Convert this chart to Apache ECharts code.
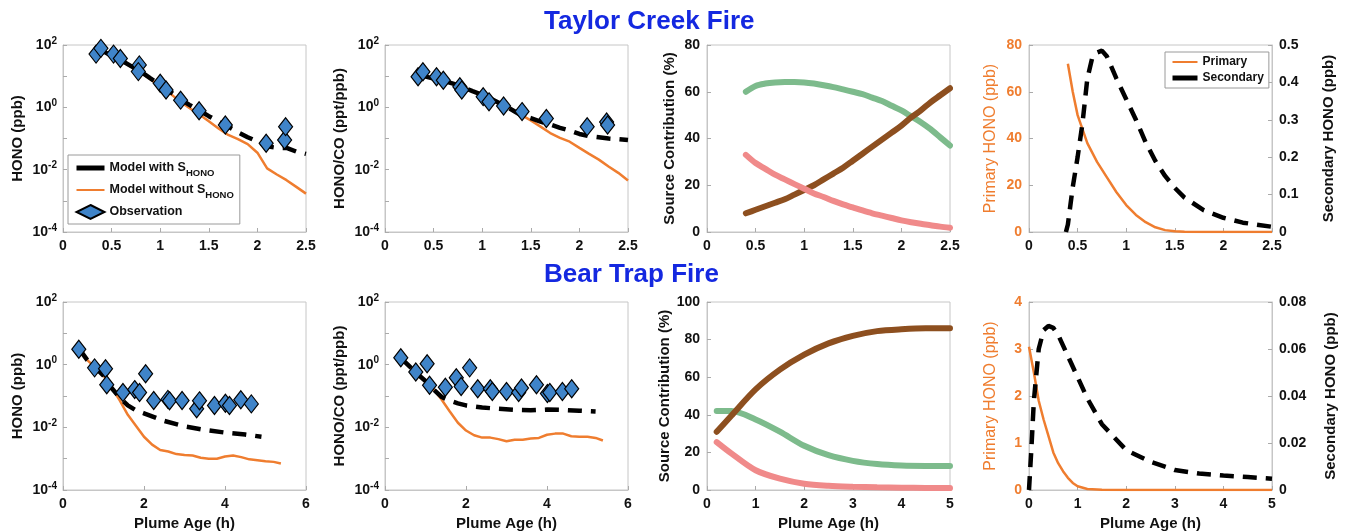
<!DOCTYPE html>
<html>
<head>
<meta charset="utf-8">
<title>HONO in Taylor Creek and Bear Trap fire plumes</title>
<script src="https://cdn.jsdelivr.net/npm/echarts@6/dist/echarts.min.js"></script>
<style>
  html, body { margin: 0; padding: 0; background: #fff; }
  #main { width: 1346px; height: 532px; }
</style>
</head>
<body>
<div id="main"></div>
<script>
// ---- Taylor Creek Fire ----
var tcObsAge = [0.34, 0.39, 0.52, 0.59, 0.785, 0.775, 1.0, 1.06, 1.21, 1.40, 1.67, 2.09, 2.28, 2.29];
var tcObsHono = [51, 78, 51, 37, 23, 14, 5.9, 3.6, 1.7, 0.78, 0.27, 0.07, 0.09, 0.24];
var tcObsRatioAge = [0.34, 0.39, 0.53, 0.6, 0.77, 0.79, 1.01, 1.07, 1.22, 1.41, 1.66, 2.08, 2.28, 2.29];
var tcObsRatio = [9.6, 13.8, 9.6, 7.4, 4.6, 3.6, 2.2, 1.5, 1.1, 0.73, 0.44, 0.24, 0.34, 0.27];

var tcAge = [0.4, 0.5, 0.6, 0.7, 0.8, 0.9, 1.0, 1.1, 1.2, 1.3, 1.4, 1.5, 1.6, 1.7, 1.8, 1.9, 2.0, 2.1, 2.2, 2.3, 2.4, 2.5];
var tcHonoWith = [66, 45, 32, 21, 14, 8.5, 5.3, 3.2, 1.9, 1.2, 0.8, 0.52, 0.35, 0.24, 0.16, 0.11, 0.08, 0.056, 0.05, 0.05, 0.038, 0.032];
var tcHonoWithout = [66, 44.7, 31.6, 20, 13.2, 7.9, 4.8, 2.8, 1.58, 0.95, 0.6, 0.355, 0.21, 0.13, 0.095, 0.066, 0.035, 0.011, 0.007, 0.0046, 0.0028, 0.0017];
var tcRatioWith = [10, 8.3, 7.1, 5.75, 4.5, 3.3, 2.5, 1.8, 1.26, 0.85, 0.56, 0.45, 0.35, 0.28, 0.22, 0.18, 0.14, 0.12, 0.11, 0.1, 0.095, 0.089];
var tcRatioWithout = [10, 8.3, 7.1, 5.75, 4.5, 3.3, 2.5, 1.8, 1.26, 0.89, 0.575, 0.38, 0.24, 0.15, 0.105, 0.079, 0.05, 0.032, 0.021, 0.0126, 0.0079, 0.0045];

var tcSrcGreen = [60, 62.5, 63.5, 64, 64.2, 64.2, 64, 63.5, 62.8, 62, 61, 60, 59, 57.5, 56, 54, 52, 49.5, 47, 44, 40.5, 37];
var tcSrcBrown = [8, 9.5, 11, 12.5, 14, 16, 18, 20, 22.5, 25, 27.5, 30.5, 33.5, 36.5, 39.5, 42.5, 45.5, 49, 52, 55.5, 58.5, 61.5];
var tcSrcRed = [33, 29.5, 27, 24.5, 22.5, 20.5, 18.5, 16.5, 15, 13.3, 11.8, 10.5, 9.2, 8, 7, 6, 5, 4.2, 3.5, 2.9, 2.3, 1.8];

var tcPrimAge = [0.4, 0.45, 0.5, 0.55, 0.6, 0.7, 0.8, 0.9, 1.0, 1.1, 1.2, 1.3, 1.4, 1.5, 1.6, 1.8, 2.0, 2.5];
var tcPrimary = [72, 60, 50, 44, 38, 30, 23.5, 17, 11.5, 7.3, 4.2, 2.0, 0.8, 0.3, 0.1, 0.03, 0, 0];
var tcSecAge = [0.38, 0.4, 0.45, 0.5, 0.55, 0.6, 0.65, 0.7, 0.75, 0.8, 0.9, 1.0, 1.1, 1.2, 1.3, 1.4, 1.5, 1.6, 1.8, 2.0, 2.2, 2.5];
var tcSecondary = [0, 0.02, 0.12, 0.2, 0.29, 0.41, 0.465, 0.48, 0.485, 0.47, 0.41, 0.355, 0.3, 0.24, 0.19, 0.15, 0.118, 0.092, 0.058, 0.038, 0.025, 0.014];

// ---- Bear Trap Fire ----
var btObsAge = [0.39, 0.78, 1.05, 1.08, 1.48, 1.77, 1.89, 2.04, 2.24, 2.59, 2.63, 2.94, 3.30, 3.37, 3.74, 4.01, 4.11, 4.39, 4.65];
var btObsHono = [3.1, 0.79, 0.74, 0.23, 0.13, 0.16, 0.13, 0.51, 0.072, 0.078, 0.07, 0.072, 0.039, 0.07, 0.05, 0.059, 0.05, 0.076, 0.056];
var btObsRatioAge = [0.39, 0.76, 1.04, 1.1, 1.49, 1.76, 1.88, 2.09, 2.29, 2.6, 2.65, 3.0, 3.3, 3.37, 3.74, 4.01, 4.07, 4.38, 4.61];
var btObsRatio = [1.66, 0.58, 1.07, 0.22, 0.19, 0.38, 0.2, 0.79, 0.17, 0.17, 0.14, 0.14, 0.13, 0.18, 0.23, 0.12, 0.13, 0.14, 0.17];

var btAge = [0.4, 0.6, 0.8, 1.0, 1.2, 1.4, 1.6, 1.8, 2.0, 2.2, 2.4, 2.6, 2.8, 3.0, 3.2, 3.4, 3.6, 3.8, 4.0, 4.2, 4.4, 4.6, 4.8, 5.0, 5.2, 5.38];
var btHonoWithout = [3.2, 1.4, 0.8, 0.45, 0.19, 0.072, 0.025, 0.0112, 0.005, 0.0028, 0.0019, 0.0017, 0.0014, 0.0013, 0.00126, 0.00107, 0.001, 0.001, 0.00117, 0.00126, 0.00112, 0.00095, 0.00089, 0.00083, 0.00079, 0.0007];
var btRatioWithout = [1.6, 0.9, 0.5, 0.3, 0.166, 0.076, 0.032, 0.014, 0.0079, 0.0056, 0.0047, 0.0047, 0.0042, 0.0036, 0.004, 0.004, 0.0044, 0.0046, 0.0058, 0.0063, 0.0063, 0.0052, 0.005, 0.005, 0.0046, 0.0038];
var btHonoWithAge = [0.4, 0.6, 0.8, 1.0, 1.2, 1.4, 1.6, 1.8, 2.0, 2.5, 3.0, 3.5, 4.0, 4.5, 4.9];
var btHonoWith = [3.2, 1.4, 0.8, 0.45, 0.18, 0.089, 0.05, 0.035, 0.028, 0.016, 0.0107, 0.0083, 0.0068, 0.0059, 0.005];
var btRatioWithAge = [0.4, 0.6, 0.8, 1.0, 1.2, 1.4, 1.6, 1.8, 2.0, 2.4, 2.8, 3.2, 3.6, 4.0, 4.4, 4.8, 5.2];
var btRatioWith = [1.6, 0.9, 0.5, 0.3, 0.16, 0.093, 0.071, 0.058, 0.05, 0.043, 0.039, 0.036, 0.035, 0.037, 0.036, 0.034, 0.032];

var btSrcAge = [0.2, 0.5, 1.0, 1.5, 2.0, 2.5, 3.0, 3.5, 4.0, 4.5, 5.0];
var btSrcBrown = [31, 39.5, 53.5, 64, 72, 78, 82, 84.5, 85.5, 86, 86];
var btSrcGreen = [42, 42, 37.5, 31, 23.5, 18.5, 15.5, 13.8, 13, 12.8, 12.8];
var btSrcRed = [25.5, 19.5, 10.5, 6, 3.3, 2.2, 1.7, 1.4, 1.2, 1.1, 1.0];

var btPrimAge = [0, 0.1, 0.2, 0.3, 0.4, 0.5, 0.6, 0.7, 0.8, 0.9, 1.0, 1.2, 1.5, 2.0, 3.0, 4.0, 5.0];
var btPrimary = [3.05, 2.5, 1.9, 1.5, 1.15, 0.8, 0.57, 0.4, 0.26, 0.15, 0.08, 0.02, 0.005, 0, 0, 0, 0];
var btSecAge = [0, 0.05, 0.1, 0.2, 0.3, 0.4, 0.5, 0.6, 0.8, 1.0, 1.2, 1.5, 2.0, 2.5, 3.0, 3.5, 4.0, 4.5, 5.0];
var btSecondary = [0, 0.018, 0.038, 0.06, 0.068, 0.0698, 0.069, 0.066, 0.057, 0.048, 0.039, 0.028, 0.017, 0.012, 0.0085, 0.007, 0.0062, 0.0055, 0.0048];

// colours
var ORANGE = '#ef7d2f';
var BLUE = '#3f84c9';
var GREEN = '#7dbb8c';
var BROWN = '#8d4f1f';
var RED = '#f08a8a';
var FONT = 'Liberation Sans';

function xy(xs, ys) {
  return xs.map(function (x, i) { return [x, ys[i]]; });
}

var chart = echarts.init(document.getElementById('main'));

var lefts = [63, 385, 707, 1029];
var grids = [];
for (var i = 0; i < 8; i++) {
  var row = i < 4 ? 0 : 1;
  grids.push({
    left: lefts[i % 4], top: row ? 302 : 45, width: 243, height: row ? 188 : 187,
    show: true, borderColor: '#c6c6c6', borderWidth: 1, backgroundColor: '#fff'
  });
}

var tickLabel = { color: '#111', fontFamily: FONT, fontWeight: 'bold', fontSize: 14 };
var nameStyle = { color: '#111', fontFamily: FONT, fontWeight: 'bold', fontSize: 15 };

function xAxis(idx, max, interval, bottom) {
  return {
    gridIndex: idx, type: 'value', min: 0, max: max, interval: interval,
    axisLine: { lineStyle: { color: '#c6c6c6' } },
    axisTick: { inside: true, length: 4, lineStyle: { color: '#aaa' } },
    splitLine: { show: false },
    axisLabel: Object.assign({ margin: 7 }, tickLabel),
    name: bottom ? 'Plume Age (h)' : '', nameLocation: 'middle', nameGap: 26,
    nameTextStyle: nameStyle
  };
}

function logAxis(idx, name, gap) {
  return {
    gridIndex: idx, type: 'log', logBase: 10, min: 0.0001, max: 100,
    axisLine: { show: true, lineStyle: { color: '#c6c6c6' } },
    axisTick: { inside: true, length: 4, lineStyle: { color: '#aaa' } },
    splitLine: { show: false },
    axisLabel: {
      margin: 6,
      formatter: function (v) {
        var e = Math.round(Math.log10(v));
        return e % 2 === 0 ? '{b|10}{e|' + e + '}' : '';
      },
      rich: {
        b: { fontFamily: FONT, fontWeight: 'bold', fontSize: 14, color: '#111', lineHeight: 18 },
        e: { fontFamily: FONT, fontWeight: 'bold', fontSize: 10, color: '#111', verticalAlign: 'top', lineHeight: 10 }
      }
    },
    name: name, nameLocation: 'middle', nameGap: gap, nameRotate: 90,
    nameTextStyle: nameStyle
  };
}

function linAxis(idx, max, interval, name, gap, color, right) {
  return {
    gridIndex: idx, type: 'value', min: 0, max: max, interval: interval,
    position: right ? 'right' : 'left',
    axisLine: { show: true, lineStyle: { color: '#c6c6c6' } },
    axisTick: { inside: true, length: 4, lineStyle: { color: '#aaa' } },
    splitLine: { show: false },
    axisLabel: Object.assign({}, tickLabel, { color: color || '#111', margin: 7 }),
    name: name, nameLocation: 'middle', nameGap: gap, nameRotate: 90,
    // the orange primary axis title is in a lighter weight
    nameTextStyle: Object.assign({}, nameStyle, color ? { color: color, fontWeight: 'normal', fontSize: 16 } : {})
  };
}

var xAxes = [
  xAxis(0, 2.5, 0.5), xAxis(1, 2.5, 0.5), xAxis(2, 2.5, 0.5), xAxis(3, 2.5, 0.5),
  xAxis(4, 6, 2, true), xAxis(5, 6, 2, true), xAxis(6, 5, 1, true), xAxis(7, 5, 1, true)
];

var yAxes = [
  logAxis(0, 'HONO (ppb)', 38),
  logAxis(1, 'HONO/CO (ppt/ppb)', 38),
  linAxis(2, 80, 20, 'Source Contribution (%)', 30),
  linAxis(3, 80, 20, 'Primary HONO (ppb)', 30, ORANGE),
  linAxis(3, 0.5, 0.1, 'Secondary HONO (ppb)', 49, null, true),
  logAxis(4, 'HONO (ppb)', 38),
  logAxis(5, 'HONO/CO (ppt/ppb)', 38),
  linAxis(6, 100, 20, 'Source Contribution (%)', 33),
  linAxis(7, 4, 1, 'Primary HONO (ppb)', 30, ORANGE),
  linAxis(7, 0.08, 0.02, 'Secondary HONO (ppb)', 51, null, true)
];

function dashed(name, x, y, data) {
  return {
    type: 'line', name: name, xAxisIndex: x, yAxisIndex: y, data: data,
    symbol: 'none', lineStyle: { color: '#000', width: 4.5, type: [14, 9] },
    itemStyle: { color: '#000' }, z: 3
  };
}
function orange(name, x, y, data) {
  return {
    type: 'line', name: name, xAxisIndex: x, yAxisIndex: y, data: data,
    symbol: 'none', lineStyle: { color: ORANGE, width: 2.5 },
    itemStyle: { color: ORANGE }, z: 2
  };
}
function obs(x, y, data) {
  return {
    type: 'scatter', name: 'Observation', xAxisIndex: x, yAxisIndex: y, data: data,
    symbol: 'diamond', symbolSize: [14, 18],
    itemStyle: { color: BLUE, borderColor: '#000', borderWidth: 1.2, opacity: 1 }, z: 5
  };
}
function thick(name, x, y, data, color) {
  return {
    type: 'line', name: name, xAxisIndex: x, yAxisIndex: y, data: data,
    symbol: 'none', smooth: 0.3, lineStyle: { color: color, width: 6, cap: 'round' },
    itemStyle: { color: color }
  };
}

var series = [
  dashed('Model with S_HONO', 0, 0, xy(tcAge, tcHonoWith)),
  orange('Model without S_HONO', 0, 0, xy(tcAge, tcHonoWithout)),
  obs(0, 0, xy(tcObsAge, tcObsHono)),

  dashed('Model with S_HONO', 1, 1, xy(tcAge, tcRatioWith)),
  orange('Model without S_HONO', 1, 1, xy(tcAge, tcRatioWithout)),
  obs(1, 1, xy(tcObsRatioAge, tcObsRatio)),

  thick('Source 1', 2, 2, xy(tcAge, tcSrcGreen), GREEN),
  thick('Source 2', 2, 2, xy(tcAge, tcSrcBrown), BROWN),
  thick('Source 3', 2, 2, xy(tcAge, tcSrcRed), RED),

  orange('Primary', 3, 3, xy(tcPrimAge, tcPrimary)),
  dashed('Secondary', 3, 4, xy(tcSecAge, tcSecondary)),

  dashed('Model with S_HONO', 4, 5, xy(btHonoWithAge, btHonoWith)),
  orange('Model without S_HONO', 4, 5, xy(btAge, btHonoWithout)),
  obs(4, 5, xy(btObsAge, btObsHono)),

  dashed('Model with S_HONO', 5, 6, xy(btRatioWithAge, btRatioWith)),
  orange('Model without S_HONO', 5, 6, xy(btAge, btRatioWithout)),
  obs(5, 6, xy(btObsRatioAge, btObsRatio)),

  thick('Source 1', 6, 7, xy(btSrcAge, btSrcGreen), GREEN),
  thick('Source 2', 6, 7, xy(btSrcAge, btSrcBrown), BROWN),
  thick('Source 3', 6, 7, xy(btSrcAge, btSrcRed), RED),

  orange('Primary', 7, 8, xy(btPrimAge, btPrimary)),
  dashed('Secondary', 7, 9, xy(btSecAge, btSecondary))
];

// hide the marker that echarts puts in the middle of line legend icons
var noMarker = { opacity: 0 };

var option = {
  backgroundColor: '#fff',
  animation: false,
  title: [
    { text: 'Taylor Creek Fire', left: 539, top: 4, textStyle: { color: '#1428e0', fontFamily: FONT, fontWeight: 'bold', fontSize: 26 } },
    { text: 'Bear Trap Fire', left: 539, top: 257, textStyle: { color: '#1428e0', fontFamily: FONT, fontWeight: 'bold', fontSize: 26 } }
  ],
  legend: [
    {
      orient: 'vertical', left: 68, top: 155, padding: [3, 6, 2, 6], itemGap: 2,
      itemWidth: 28, itemHeight: 14,
      borderColor: '#9a9a9a', borderWidth: 1, backgroundColor: '#fff',
      selectedMode: false,
      textStyle: {
        fontFamily: FONT, fontWeight: 'bold', fontSize: 12.5, color: '#111', lineHeight: 20,
        rich: {
          sub: { fontFamily: FONT, fontWeight: 'bold', fontSize: 9.5, color: '#111', verticalAlign: 'bottom', lineHeight: 11 }
        }
      },
      formatter: function (n) { return n.replace('S_HONO', 'S{sub|HONO}'); },
      data: [
        { name: 'Model with S_HONO', lineStyle: { type: 'solid', width: 5 }, itemStyle: noMarker },
        { name: 'Model without S_HONO', itemStyle: noMarker },
        { name: 'Observation' }
      ]
    },
    {
      orient: 'vertical', left: 1165, top: 52, padding: [4, 5, 4, 5], itemGap: 4,
      itemWidth: 25, itemHeight: 12,
      borderColor: '#9a9a9a', borderWidth: 1, backgroundColor: '#fff',
      selectedMode: false,
      textStyle: { fontFamily: FONT, fontWeight: 'bold', fontSize: 12, color: '#111' },
      data: [
        { name: 'Primary', itemStyle: noMarker },
        { name: 'Secondary', lineStyle: { type: 'solid', width: 5 }, itemStyle: noMarker }
      ]
    }
  ],
  grid: grids,
  xAxis: xAxes,
  yAxis: yAxes,
  series: series
};

chart.setOption(option);
</script>
</body>
</html>
